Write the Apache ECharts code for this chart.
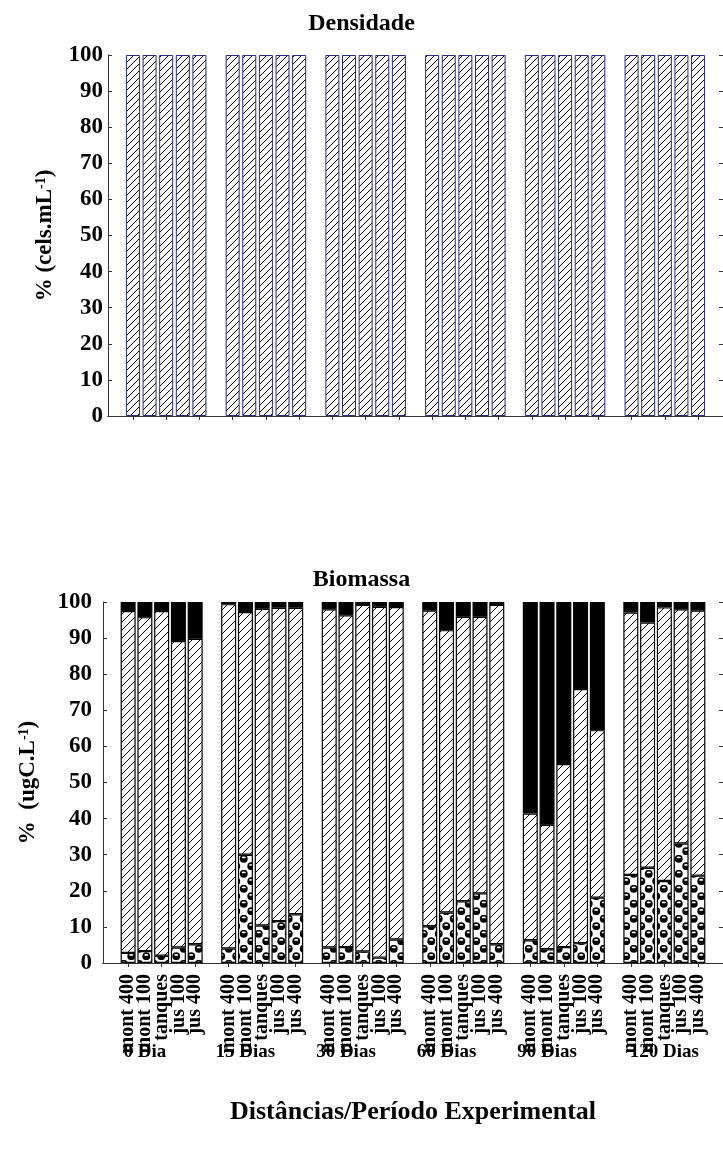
<!DOCTYPE html>
<html>
<head>
<meta charset="utf-8">
<script src="https://cdn.jsdelivr.net/npm/echarts@6/dist/echarts.min.js"></script>
<style>
  html, body { margin: 0; padding: 0; background: #fff; }
  #chart { width: 723px; height: 1160px; }
</style>
</head>
<body>
<div id="chart"></div>
<script>
// períodos e estações
var periods = ['0 Dia', '15 Dias', '30 Dias', '60 Dias', '90 Dias', '120 Dias'];
var stations = ['mont 400', 'mont 100', 'tanques', 'jus 100', 'jus 400'];
var yTicks = [0, 10, 20, 30, 40, 50, 60, 70, 80, 90, 100];

// Densidade (%) - um grupo por período
var densidade = [
    [100, 100, 100, 100, 100],
    [100, 100, 100, 100, 100],
    [100, 100, 100, 100, 100],
    [100, 100, 100, 100, 100],
    [100, 100, 100, 100, 100],
    [100, 100, 100, 100, 100]
];

// Biomassa (%) - parte pontilhada (base)
var bioPontos = [
    [2.8, 3.3, 2.0, 4.3, 5.2],
    [4.0, 30.0, 10.4, 11.6, 13.5],
    [4.3, 4.4, 3.2, 1.5, 6.5],
    [10.2, 14.0, 17.1, 19.3, 5.2],
    [6.3, 3.8, 4.4, 5.5, 18.1],
    [24.4, 26.4, 22.7, 33.1, 24.2]
];
// Biomassa (%) - parte hachurada (meio)
var bioHachura = [
    [94.7, 92.5, 95.5, 84.9, 84.6],
    [95.4, 67.2, 87.7, 86.8, 84.9],
    [93.7, 91.9, 96.0, 97.2, 92.1],
    [87.4, 78.2, 78.8, 76.6, 94.0],
    [35.1, 34.5, 50.7, 70.4, 46.4],
    [72.7, 67.9, 75.8, 64.9, 73.4]
];
// Biomassa (%) - parte preta (topo)
var bioPreto = [
    [2.5, 4.2, 2.5, 10.8, 10.2],
    [0.6, 2.8, 1.9, 1.6, 1.6],
    [2.0, 3.7, 0.8, 1.3, 1.4],
    [2.4, 7.8, 4.1, 4.1, 0.8],
    [58.6, 61.7, 44.9, 24.1, 35.5],
    [2.9, 5.7, 1.5, 2.0, 2.4]
];

// posição (índice da barra no grupo) do rótulo de cada período
var periodSlot = [1, 1, 1, 1, 1, 2];

var FONT = 'Liberation Serif';

// espalha os grupos em slots: vazio, 5 barras, vazio, 5 barras...
function spread(groups) {
    var out = ['-'];
    groups.forEach(function (g) {
        g.forEach(function (v) { out.push(v); });
        out.push('-');
    });
    return out;
}

var categories = [''];
periods.forEach(function () {
    stations.forEach(function (s) { categories.push(s); });
    categories.push('');
});

// eixo auxiliar com o nome do período
var periodCats = categories.map(function () { return ''; });
periods.forEach(function (p, g) { periodCats[1 + periodSlot[g] + g * 6] = p; });

// padrões de preenchimento
function makeHatch(step) {
    var c = document.createElement('canvas');
    c.width = step; c.height = step;
    var g = c.getContext('2d');
    g.fillStyle = '#fff';
    g.fillRect(0, 0, step, step);
    g.strokeStyle = '#000';
    g.lineWidth = 1;
    g.beginPath();
    g.moveTo(0, step); g.lineTo(step, 0);
    g.moveTo(-1, 1); g.lineTo(1, -1);
    g.moveTo(step - 1, step + 1); g.lineTo(step + 1, step - 1);
    g.stroke();
    return c;
}

function makeDots() {
    var w = 15, h = 15;
    var c = document.createElement('canvas');
    c.width = w; c.height = h;
    var g = c.getContext('2d');
    g.fillStyle = '#fff';
    g.fillRect(0, 0, w, h);
    [[3.75, 3.75], [11.25, 11.25], [-3.75, 11.25], [18.75, 3.75]].forEach(function (p) {
        g.fillStyle = '#000';
        g.beginPath();
        g.arc(p[0], p[1], 3.9, 0, Math.PI * 2);
        g.fill();
        g.fillStyle = '#fff';
        g.beginPath();
        g.ellipse(p[0], p[1] - 1.3, 2.1, 0.9, 0, 0, Math.PI * 2);
        g.fill();
    });
    return c;
}

var hatchTop = { image: makeHatch(7), repeat: 'repeat' };
var hatchBottom = { image: makeHatch(8), repeat: 'repeat' };
var dots = { image: makeDots(), repeat: 'repeat' };

var oddTick = function (idx) { return idx % 2 === 1; };

function yLeft(grid, gap, margin, name) {
    return {
        gridIndex: grid,
        type: 'value',
        min: yTicks[0],
        max: yTicks[yTicks.length - 1],
        interval: yTicks[1] - yTicks[0],
        axisLine: { show: true, lineStyle: { color: '#333', width: 1 } },
        axisTick: { show: true, inside: true, length: 4, lineStyle: { color: '#333' } },
        axisLabel: { fontFamily: FONT, fontWeight: 'bold', fontSize: 23, color: '#000', margin: margin },
        splitLine: { show: false },
        name: name,
        nameLocation: 'middle',
        nameGap: gap,
        nameTextStyle: {
            fontFamily: FONT, fontWeight: 'bold', fontSize: 23, color: '#000',
            rich: { s: { fontFamily: FONT, fontWeight: 'bold', fontSize: 14, color: '#000', verticalAlign: 'top' } }
        }
    };
}

function yRight(grid) {
    return {
        gridIndex: grid,
        type: 'value',
        position: 'right',
        min: 0, max: 100, interval: 10,
        axisLine: { show: true, lineStyle: { color: '#333' } },
        axisTick: { show: true, inside: true, length: 4, lineStyle: { color: '#333' } },
        axisLabel: { show: false },
        splitLine: { show: false }
    };
}

function xFrame(grid, pos) {
    return {
        gridIndex: grid,
        type: 'category',
        data: categories,
        position: pos,
        axisLine: { show: true, lineStyle: { color: '#333', width: 1 } },
        axisTick: { show: true, inside: true, alignWithLabel: true, interval: oddTick, length: 4, lineStyle: { color: '#333' } },
        axisLabel: { show: false }
    };
}

var chart = echarts.init(document.getElementById('chart'));

var xBottom = xFrame(1, 'bottom');
xBottom.axisLabel = {
    show: true, interval: 0, rotate: 90, margin: 11,
    fontFamily: FONT, fontWeight: 'bold', fontSize: 20, color: '#000'
};
xBottom.name = 'Distâncias/Período Experimental';
xBottom.nameLocation = 'middle';
xBottom.nameGap = 136;
xBottom.nameTextStyle = { fontFamily: FONT, fontWeight: 'bold', fontSize: 26, color: '#000' };

var option = {
    animation: false,
    backgroundColor: '#fff',
    title: [
        { text: 'Densidade', left: 'center', top: 7,
          textStyle: { fontFamily: FONT, fontWeight: 'bold', fontSize: 24, color: '#000' } },
        { text: 'Biomassa', left: 'center', top: 563,
          textStyle: { fontFamily: FONT, fontWeight: 'bold', fontSize: 24, color: '#000' } }
    ],
    grid: [
        { left: 108, top: 55, width: 617, height: 361 },
        { left: 103, top: 602, width: 629, height: 361 }
    ],
    xAxis: [
        xFrame(0, 'top'),
        xFrame(0, 'bottom'),
        xBottom,
        xFrame(1, 'top'),
        {
            gridIndex: 1,
            type: 'category',
            data: periodCats,
            position: 'bottom',
            axisLine: { show: false },
            axisTick: { show: false },
            axisLabel: { interval: 0, margin: 80, fontFamily: FONT, fontWeight: 'bold', fontSize: 19, color: '#000' }
        }
    ],
    yAxis: [
        yLeft(0, 51, 5, '% (cels.mL{s|-1})'),
        yRight(0),
        yLeft(1, 63, 11, '%  (ugC.L{s|-1})'),
        yRight(1)
    ],
    series: [
        {
            type: 'bar', xAxisIndex: 0, yAxisIndex: 0,
            data: spread(densidade),
            barWidth: 14,
            itemStyle: { color: hatchTop, borderColor: '#2b2b7a', borderWidth: 1 }
        },
        {
            type: 'bar', xAxisIndex: 2, yAxisIndex: 2, stack: 'bio',
            data: spread(bioPontos),
            barWidth: 15,
            itemStyle: { color: dots, borderColor: '#000', borderWidth: 1.2 }
        },
        {
            type: 'bar', xAxisIndex: 2, yAxisIndex: 2, stack: 'bio',
            data: spread(bioHachura),
            barWidth: 15,
            itemStyle: { color: hatchBottom, borderColor: '#000', borderWidth: 1.2 }
        },
        {
            type: 'bar', xAxisIndex: 2, yAxisIndex: 2, stack: 'bio',
            data: spread(bioPreto),
            barWidth: 15,
            itemStyle: { color: '#000', borderColor: '#000', borderWidth: 1.2 }
        }
    ]
};

chart.setOption(option);
window.addEventListener('resize', function () {
    chart.resize();
});
</script>
</body>
</html>
